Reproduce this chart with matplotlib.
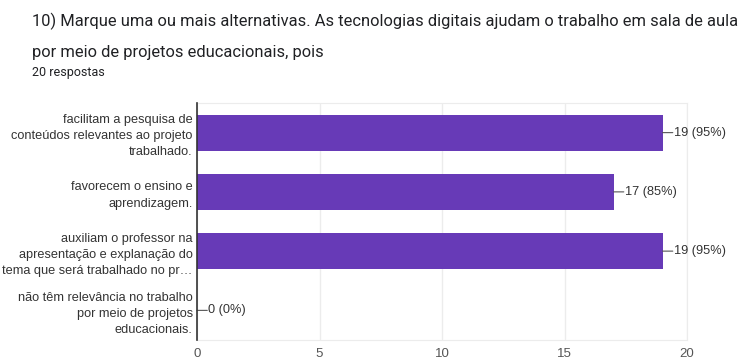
import matplotlib.pyplot as plt

categories = [
    "facilitam a pesquisa de\nconteúdos relevantes ao projeto\ntrabalhado.",
    "favorecem o ensino e\naprendizagem.",
    "auxiliam o professor na\napresentação e explanação do\ntema que será trabalhado no pr…",
    "não têm relevância no trabalho\npor meio de projetos\neducacionais.",
]
counts = [19, 17, 19, 0]
percents = [95, 85, 95, 0]
xticks = [0, 5, 10, 15, 20]

title_lines = [
    "10) Marque uma ou mais alternativas. As tecnologias digitais ajudam o trabalho em sala de aula",
    "por meio de projetos educacionais, pois",
]
subtitle = "20 respostas"

purple = "#673ab7"
W, H = 739, 359

fig = plt.figure(figsize=(W / 100, H / 100), dpi=100)
ax = fig.add_axes([197 / W, 1 - 340 / H, (687 - 197) / W, (340 - 103) / H])

ypos = range(len(categories))
ax.barh(ypos, counts, height=0.61, color=purple, zorder=3)
ax.set_ylim(len(categories) - 0.5, -0.5)
ax.set_xlim(0, 20)

ax.set_yticks(list(ypos))
ax.set_yticklabels(categories, fontsize=9.15, color="#333333", family="Liberation Sans",
                   linespacing=1.47, ha="right")
ax.set_xticks(xticks)
ax.set_xticklabels([str(t) for t in xticks], fontsize=9.5, color="#555555", family="Liberation Sans")
ax.tick_params(axis="y", length=0, pad=3)
ax.tick_params(axis="x", length=0, pad=6)

ax.grid(axis="x", color="#ececec", linewidth=1, zorder=0)
for side in ["top", "right", "bottom"]:
    ax.spines[side].set_color("#ececec")
ax.spines["left"].set_color("#333333")
ax.spines["left"].set_linewidth(1.2)
ax.spines["left"].set_zorder(4)

# value labels with a short leader line
for y, c, p in zip(ypos, counts, percents):
    ax.annotate("", xy=(c, y), xytext=(c + 0.42, y),
                arrowprops=dict(arrowstyle="-", color="#555555", lw=0.8, shrinkA=0, shrinkB=0))
    ax.text(c + 0.45, y, f"{c} ({p}%)", va="center", ha="left", fontsize=9.2,
            color="#333333", family="Liberation Sans")

# title block, two lines plus the response count
fig.text(32 / W, 1 - 26.5 / H, title_lines[0], va="baseline", ha="left", fontsize=11.85,
         color="#202124", family="Roboto")
fig.text(32 / W, 1 - 56.5 / H, title_lines[1], va="baseline", ha="left", fontsize=11.85,
         color="#202124", family="Roboto")
fig.text(32 / W, 1 - 76 / H, subtitle, va="baseline", ha="left", fontsize=9.0,
         color="#202124", family="Roboto")

fig.savefig("out.png", dpi=100)
